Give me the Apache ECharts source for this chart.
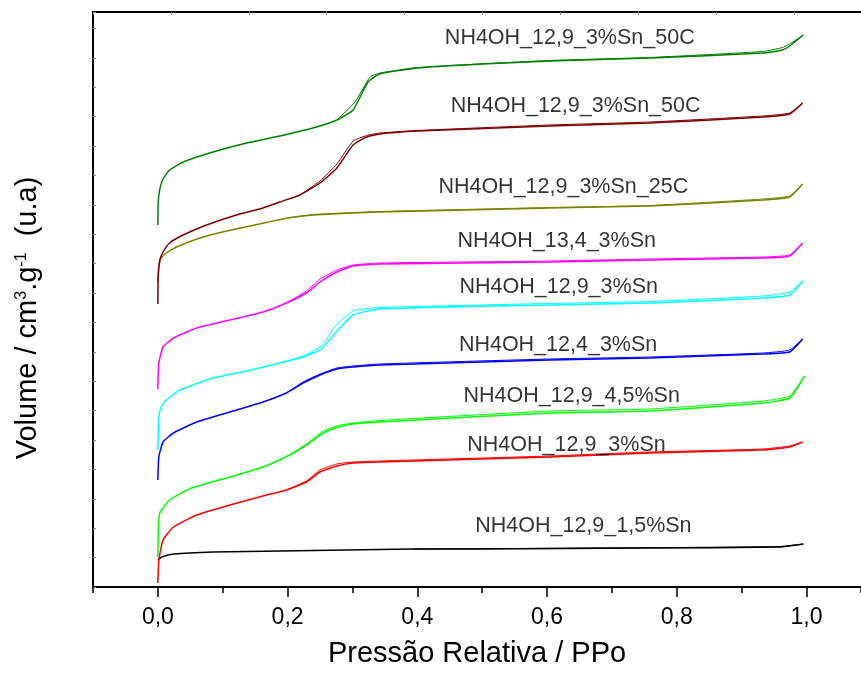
<!DOCTYPE html>
<html>
<head>
<meta charset="utf-8">
<script src="https://cdn.jsdelivr.net/npm/echarts@6/dist/echarts.min.js"></script>
<style>html,body{margin:0;padding:0;background:#fff}#c{width:861px;height:675px}</style>
</head>
<body>
<div id="c"></div>
<script>
// Isotherms: [P/Po, volume (arbitrary units, offset stacked)]
const g50Ads = [[0,362],[0.0005,385],[0.003,398],[0.008,408],[0.018,417],[0.039,425],[0.085,435],[0.137,444],[0.188,451],[0.239,459],[0.276,467],[0.301,477],[0.324,505],[0.342,513],[0.4,519],[0.5,523],[0.604,526],[0.758,529],[0.933,534],[0.963,537],[0.974,541],[0.995,552]];
const g50Des = [[0.995,552],[0.974,543],[0.963,539.5],[0.933,535.5],[0.758,529.5],[0.604,526.5],[0.4,519.5],[0.342,514],[0.327,510],[0.304,485],[0.276,467]];
const r50Ads = [[0,283],[0.0005,312],[0.003,327],[0.008,335],[0.018,344],[0.039,352],[0.075,362],[0.126,373],[0.157,378],[0.188,385],[0.219,392],[0.25,404],[0.276,419],[0.301,442],[0.322,450],[0.342,453],[0.4,456],[0.604,461],[0.758,464],[0.933,470],[0.974,473],[0.994,484]];
const r50Des = [[0.994,484],[0.974,474],[0.933,471],[0.758,465],[0.604,462],[0.4,456.5],[0.342,454],[0.322,451.5],[0.301,446],[0.276,423],[0.25,406],[0.219,392]];
const o25Ads = [[0,305],[0.002,322],[0.005,329],[0.013,334],[0.029,340],[0.065,349],[0.106,356],[0.157,363],[0.2,369],[0.239,372],[0.342,375],[0.604,379],[0.758,381],[0.933,387],[0.974,390],[0.994,403]];
const o25Des = [[0.994,403],[0.974,391],[0.933,388],[0.758,381.5],[0.604,379.5],[0.342,375.5],[0.239,372.5],[0.2,369]];
const m134Ads = [[0,198],[0.0015,224],[0.008,240],[0.024,249],[0.06,259],[0.111,267],[0.162,275],[0.198,284],[0.229,294],[0.25,305],[0.276,315],[0.301,321],[0.342,323],[0.604,325],[0.758,327],[0.933,329],[0.974,331],[0.994,344]];
const m134Des = [[0.994,344],[0.974,332],[0.933,330],[0.758,328],[0.604,326],[0.342,324],[0.301,322],[0.276,317],[0.25,308],[0.229,296],[0.198,284]];
const c129Ads = [[0,137],[0.0015,170],[0.005,180],[0.013,187],[0.034,197],[0.085,209],[0.137,216],[0.188,224],[0.224,230],[0.252,238],[0.275,255],[0.301,272],[0.342,278],[0.604,282],[0.758,284],[0.933,289],[0.974,292],[0.994,306]];
const c129Des = [[0.994,306],[0.974,295],[0.933,291],[0.758,285.5],[0.604,283.5],[0.342,279.5],[0.301,276],[0.275,262],[0.252,241],[0.224,231],[0.188,224]];
const b124Ads = [[0,107],[0.0015,130],[0.008,145],[0.024,154],[0.06,165],[0.111,175],[0.162,185],[0.198,194],[0.224,204],[0.25,212],[0.276,218],[0.301,220],[0.342,222],[0.604,227],[0.758,229],[0.933,233],[0.974,235],[0.994,248]];
const b124Des = [[0.994,248],[0.974,237],[0.933,234],[0.758,230],[0.604,228],[0.342,223],[0.301,221],[0.276,219],[0.25,213],[0.224,205],[0.198,194]];
const l45Ads = [[0,30],[0.0008,60],[0.003,74],[0.018,87],[0.052,99],[0.111,110],[0.162,120],[0.203,132],[0.229,142],[0.255,154],[0.278,160],[0.301,163],[0.342,165],[0.604,174],[0.758,176],[0.933,184],[0.974,189],[0.997,211]];
const l45Des = [[0.997,211],[0.974,191],[0.933,186],[0.758,178],[0.604,176],[0.342,166.5],[0.301,164],[0.278,161.5],[0.255,156],[0.229,143],[0.203,132]];
const r129Ads = [[0,4],[0.0015,27],[0.008,47],[0.024,60],[0.06,72],[0.111,82],[0.162,91],[0.198,97],[0.229,105],[0.25,115],[0.276,121],[0.301,124],[0.342,125],[0.604,130],[0.758,134],[0.933,137],[0.974,140],[0.994,145]];
const r129Des = [[0.994,145],[0.974,141],[0.933,138],[0.758,135],[0.604,131],[0.342,126],[0.301,125],[0.276,123],[0.25,117],[0.229,106],[0.198,97]];
const k15Ads = [[0,27],[0.006,30],[0.024,33],[0.085,35],[0.188,36],[0.393,38],[0.496,38],[0.753,39],[0.959,40],[0.995,43]];
const k15Des = [[0.995,43],[0.959,40.5],[0.753,39.3],[0.496,38.3],[0.393,38]];

const labelNames = ['NH4OH_12,9_3%Sn_50C','NH4OH_12,9_3%Sn_50C','NH4OH_12,9_3%Sn_25C','NH4OH_13,4_3%Sn','NH4OH_12,9_3%Sn','NH4OH_12,4_3%Sn','NH4OH_12,9_4,5%Sn','NH4OH_12,9_3%Sn','NH4OH_12,9_1,5%Sn'];
const labelX = [0.635, 0.644, 0.625, 0.615, 0.618, 0.617, 0.638, 0.630, 0.656];
const labelV = [548.5, 481, 399.5, 346, 300, 242, 191, 142, 60.7];

const xMajorTicks = [0, 0.2, 0.4, 0.6, 0.8, 1.0];

const samples = [
  {a: g50Ads, d: g50Des, c: '#008000'},
  {a: r50Ads, d: r50Des, c: '#800000'},
  {a: o25Ads, d: o25Des, c: '#808000'},
  {a: m134Ads, d: m134Des, c: '#FF00FF'},
  {a: c129Ads, d: c129Des, c: '#00FFFF'},
  {a: b124Ads, d: b124Des, c: '#0000FF'},
  {a: l45Ads, d: l45Des, c: '#00FF00'},
  {a: r129Ads, d: r129Des, c: '#FF0000'},
  {a: k15Ads, d: k15Des, c: '#000000'}
];

const FONT = '"Liberation Sans", Arial, sans-serif';
const chart = echarts.init(document.getElementById('c'), null, {renderer: 'canvas'});
const series = [];
samples.slice().reverse().forEach(s => {
  series.push({type: 'line', data: s.a, symbol: 'none', smooth: 0.15, lineStyle: {color: s.c, width: 1.5}, silent: true, animation: false, z: 3});
  series.push({type: 'line', data: s.d, symbol: 'none', smooth: 0.15, lineStyle: {color: s.c, width: 1.0}, silent: true, animation: false, z: 3});
});
series.push({
  type: 'scatter', symbol: 'circle', symbolSize: 1, itemStyle: {color: 'rgba(0,0,0,0)'},
  data: labelX.map((x, i) => [x, labelV[i]]),
  label: {show: true, position: 'inside', formatter: p => labelNames[p.dataIndex], color: '#000', fontSize: 21.5, fontFamily: FONT},
  silent: true, animation: false, z: 5
});

chart.setOption({
  animation: false,
  backgroundColor: '#fff',
  grid: {left: 93, right: 0, top: 12, bottom: 88, containLabel: false},
  xAxis: [
    {type: 'value', position: 'bottom', min: -0.1, max: 1.084,
     axisLine: {show: true, onZero: false, lineStyle: {color: '#000', width: 2}},
     axisTick: {show: true, customValues: xMajorTicks, length: 10, lineStyle: {color: '#000', width: 1.5}},
     axisLabel: {show: true, customValues: xMajorTicks, margin: 19, fontSize: 23, fontFamily: FONT, color: '#000',
       formatter: v => v.toFixed(1).replace('.', ',')},
     splitLine: {show: false},
     name: 'Pressão Relativa / PPo', nameLocation: 'middle', nameGap: 52,
     nameTextStyle: {fontSize: 29, fontFamily: FONT, color: '#000'}},
    {type: 'value', position: 'bottom', min: -0.1, max: 1.084, interval: 0.1,
     axisLine: {show: false, onZero: false}, axisLabel: {show: false}, splitLine: {show: false},
     axisTick: {show: true, length: 6, lineStyle: {color: '#000', width: 1.5}}},
    {type: 'value', position: 'top', min: 0, max: 9.86, interval: 1,
     axisLine: {show: true, onZero: false, lineStyle: {color: '#000', width: 2}},
     axisTick: {show: true, inside: true, length: 3, lineStyle: {color: '#888', width: 1}},
     axisLabel: {show: false}, splitLine: {show: false}}
  ],
  yAxis: {type: 'value', min: 0, max: 575, interval: 29.4,
    axisLine: {show: true, onZero: false, lineStyle: {color: '#000', width: 2}},
    axisTick: {show: true, inside: true, length: 3, lineStyle: {color: '#888', width: 1}},
    axisLabel: {show: false}, splitLine: {show: false}},
  graphic: [{
    type: 'text', x: 28, y: 318, rotation: Math.PI / 2,
    style: {
      text: 'Volume / cm{s|3}.g{s|-1}  (u.a)',
      fontSize: 29, fontFamily: FONT, fill: '#000', align: 'center', verticalAlign: 'middle',
      rich: {s: {fontSize: 16, fontFamily: FONT, fill: '#000', verticalAlign: 'top', lineHeight: 29}}
    }
  }],
  series: series
});
</script>
</body>
</html>
